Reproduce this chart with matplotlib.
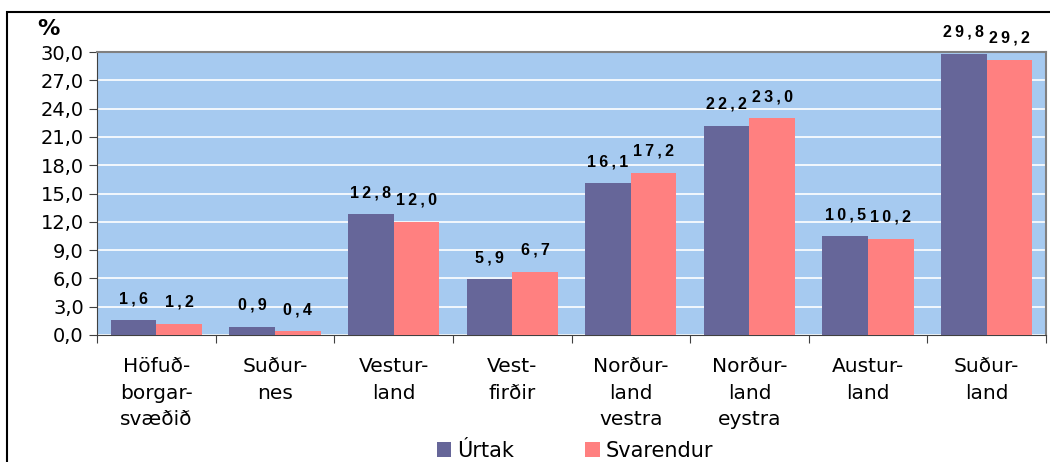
import numpy as np
import matplotlib.pyplot as plt
from matplotlib.patches import Rectangle

# Datos
regions = ['Höfuð-\nborgar-\nsvæðið', 'Suður-\nnes', 'Vestur-\nland', 'Vest-\nfirðir',
           'Norður-\nland\nvestra', 'Norður-\nland\neystra', 'Austur-\nland', 'Suður-\nland']
urtak = [1.6, 0.9, 12.8, 5.9, 16.1, 22.2, 10.5, 29.8]
svarendur = [1.2, 0.4, 12.0, 6.7, 17.2, 23.0, 10.2, 29.2]
yticks = [0, 3, 6, 9, 12, 15, 18, 21, 24, 27, 30]

c_urtak = '#666699'
c_svar = '#FF8080'

plt.rcParams['font.family'] = 'DejaVu Sans'

fig = plt.figure(figsize=(10.5, 4.62), dpi=100)
ax = fig.add_axes([97/1050, 1 - 335/462, (1046 - 97)/1050, (335 - 52)/462])
ax.set_facecolor('#A6CAF0')

# marco de la figura
fig.patches.append(Rectangle((7/1050, -0.5), 2, 1 - 12/462 + 0.5, transform=fig.transFigure,
                             fill=False, edgecolor='black', linewidth=1.5, zorder=0))

x = np.arange(len(regions))
w = 0.385
b1 = ax.bar(x - w/2, urtak, w, color=c_urtak, label='Úrtak', zorder=3)
b2 = ax.bar(x + w/2, svarendur, w, color=c_svar, label='Svarendur', zorder=3)

for bars in (b1, b2):
    for r in bars:
        v = r.get_height()
        txt = '\u2009'.join(f'{v:.1f}'.replace('.', ','))
        ax.annotate(txt, (r.get_x() + r.get_width()/2, v),
                    xytext=(0, 10), textcoords='offset points', ha='center', va='bottom',
                    family=['Liberation Sans', 'DejaVu Sans'], fontweight='bold', fontsize=11.5)

ax.set_xlim(-0.5, len(regions) - 0.5)
ax.set_ylim(0, 30)
ax.set_yticks(yticks)
ax.set_yticklabels([f'{t:.1f}'.replace('.', ',') for t in yticks], fontsize=14)
ax.yaxis.grid(True, color='white', linewidth=1.2, zorder=1)
ax.set_axisbelow(True)

# ticks del eje x entre categorías
ax.set_xticks(np.arange(-0.5, len(regions)), minor=False)
ax.set_xticklabels([])
ax.set_xticks(x, minor=True)
ax.set_xticklabels(regions, minor=True, fontsize=14.5, linespacing=1.5, va='top')
ax.tick_params(axis='x', which='minor', length=0, pad=16)
ax.tick_params(axis='x', which='major', length=6, color='#404040')
ax.tick_params(axis='y', length=6, color='#404040')

for s in ['top', 'right']:
    ax.spines[s].set_color('#808080')
    ax.spines[s].set_linewidth(1.5)
for s in ['left', 'bottom']:
    ax.spines[s].set_color('#404040')

fig.text(37/1050, 1 - 29/462, '%', fontsize=16, fontweight='bold', va='center')

fig.legend(handles=[b1, b2], loc='center', bbox_to_anchor=(575/1050, 1 - 451/462), ncol=2,
           frameon=False, fontsize=15, handlelength=0.7, handleheight=0.7,
           handletextpad=0.3, columnspacing=3.4)

fig.savefig('out.png', dpi=100)
